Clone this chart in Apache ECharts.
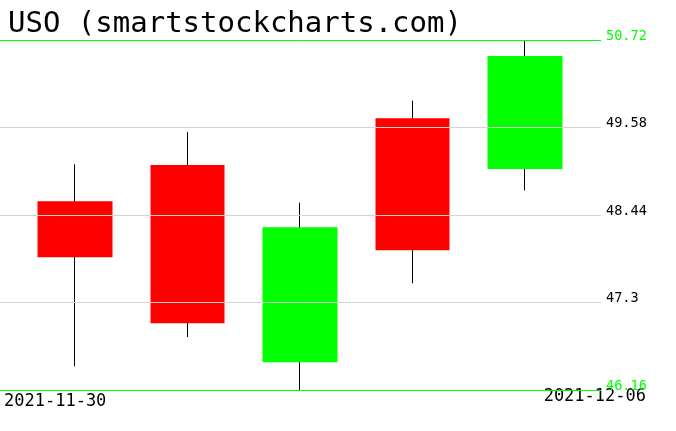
<!DOCTYPE html>
<html>
<head>
<meta charset="utf-8">
<script src="https://cdn.jsdelivr.net/npm/echarts@6/dist/echarts.min.js"></script>
<style>
html,body{margin:0;padding:0;background:#fff;}
#chart{width:676px;height:431px;}
</style>
</head>
<body>
<div id="chart"></div>
<script>
// ---- data ----
const titleText = 'USO (smartstockcharts.com)';
const categories = ['2021-11-30', '2021-12-01', '2021-12-02', '2021-12-03', '2021-12-06'];
const opens  = [48.62, 49.09, 46.52, 49.70, 49.04];
const closes = [47.89, 47.03, 48.28, 47.98, 50.51];
const lows   = [46.47, 46.85, 46.16, 47.55, 48.76];
const highs  = [49.10, 49.52, 48.60, 49.93, 50.72];
const yTicks = [46.16, 47.3, 48.44, 49.58, 50.72];

// ---- build ----
const wickData = categories.map((c, i) => [opens[i], closes[i], lows[i], highs[i]]);
const bodyData = categories.map((c, i) => [opens[i], closes[i],
  Math.min(opens[i], closes[i]), Math.max(opens[i], closes[i])]);
const yMin = yTicks[0], yMax = yTicks[yTicks.length - 1];
const GREEN = '#00ff00', RED = '#ff0000', GREY = '#d3d3d3';
const MONO = '"DejaVu Sans Mono", monospace';

const chart = echarts.init(document.getElementById('chart'), null, {renderer: 'canvas'});
chart.setOption({
  backgroundColor: '#ffffff',
  animation: false,
  title: {
    text: titleText, left: 3, top: 5,
    textStyle: {fontFamily: MONO, fontSize: 29, fontWeight: 'normal', color: '#000'}
  },
  grid: [
    {left: 0, right: 75, top: 40, bottom: 41},
    {left: 18.75, right: 94.75, top: 40, bottom: 41}
  ],
  xAxis: [
    {type: 'category', gridIndex: 0, data: categories, boundaryGap: false, show: false},
    {type: 'category', gridIndex: 1, data: categories, show: false}
  ],
  yAxis: [
    {
      type: 'value', gridIndex: 0, position: 'right', min: yMin, max: yMax, z: 10,
      axisLine: {show: false},
      axisTick: {show: false, customValues: yTicks},
      splitLine: {show: true, lineStyle: {color: [GREEN, GREY, GREY, GREY, GREEN], width: 1}},
      axisLabel: {
        customValues: yTicks, margin: 5, fontFamily: MONO, fontSize: 13.6,
        verticalAlign: 'bottom', lineHeight: 8,
        formatter: v => String(v),
        color: (v) => (Math.abs(Number(v) - yMin) < 1e-6 || Math.abs(Number(v) - yMax) < 1e-6) ? GREEN : '#000'
      }
    },
    {type: 'value', gridIndex: 1, min: yMin, max: yMax, show: false, splitLine: {show: false}}
  ],
  series: [
    {
      name: 'wick', type: 'candlestick', xAxisIndex: 1, yAxisIndex: 1, z: 2,
      barWidth: 1, data: wickData,
      itemStyle: {color: '#000', color0: '#000', borderColor: '#000', borderColor0: '#000', borderWidth: 1}
    },
    {
      name: 'body', type: 'candlestick', xAxisIndex: 1, yAxisIndex: 1, z: 3,
      barWidth: 75, data: bodyData,
      itemStyle: {color: GREEN, color0: RED, borderColor: GREEN, borderColor0: RED, borderWidth: 0}
    }
  ],
  graphic: [
    {type: 'text', left: 4, top: 393, style: {text: categories[0], font: '17px ' + MONO, fill: '#000'}},
    {type: 'text', right: 676 - 646, top: 388, style: {text: categories[categories.length - 1], font: '17px ' + MONO, fill: '#000'}}
  ]
});
</script>
</body>
</html>
